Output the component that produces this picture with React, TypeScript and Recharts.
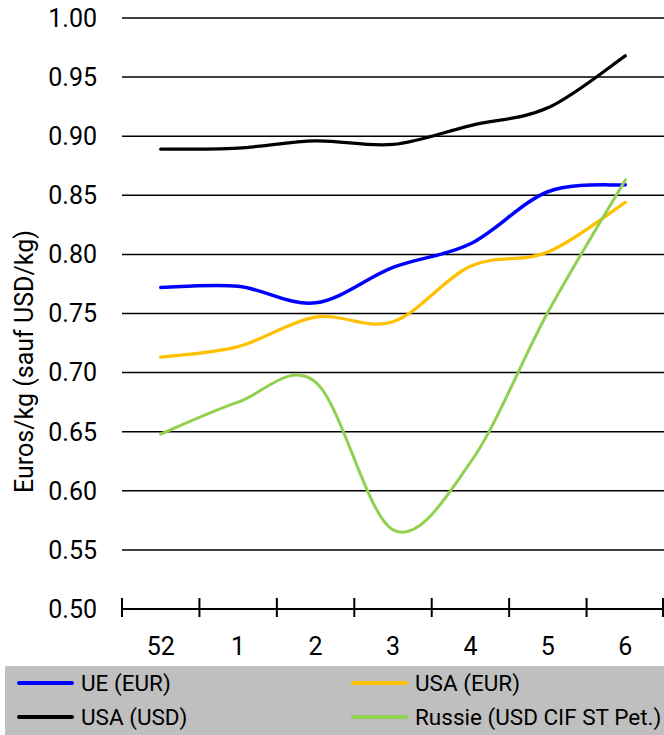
import React from "react";
import { CartesianGrid, Line, LineChart, XAxis, YAxis } from "recharts";

const WEEKS = ["52", "1", "2", "3", "4", "5", "6"];
const UE_EUR = [0.772, 0.773, 0.759, 0.789, 0.809, 0.853, 0.859];
const USA_EUR = [0.713, 0.722, 0.747, 0.743, 0.79, 0.802, 0.844];
const USA_USD = [0.889, 0.89, 0.896, 0.893, 0.909, 0.924, 0.968];
const RUSSIE_USD = [0.648, 0.675, 0.692, 0.567, 0.624, 0.751, 0.863];
const Y_TICKS = [0.5, 0.55, 0.6, 0.65, 0.7, 0.75, 0.8, 0.85, 0.9, 0.95, 1.0];

type SeriesConfig = {
  key: string;
  label: string;
  color: string;
  width: number;
  values: number[];
};

const SERIES: SeriesConfig[] = [
  { key: "ue", label: "UE (EUR)", color: "#0000ff", width: 3.5, values: UE_EUR },
  { key: "usaEur", label: "USA (EUR)", color: "#ffc000", width: 3.25, values: USA_EUR },
  { key: "usaUsd", label: "USA (USD)", color: "#000000", width: 3.25, values: USA_USD },
  { key: "russie", label: "Russie (USD CIF ST Pet.)", color: "#92d050", width: 3, values: RUSSIE_USD },
];

const chartData = WEEKS.map((week, i) => {
  const row: Record<string, number | string> = { week };
  SERIES.forEach((s) => {
    row[s.key] = s.values[i];
  });
  return row;
});

const FONT = "Roboto, 'Noto Sans', sans-serif";

// Excel-like smoothed line (uniform Catmull-Rom through the points)
function smoothCurve(context: any) {
  let pts: [number, number][] = [];
  return {
    areaStart() {},
    areaEnd() {},
    lineStart() {
      pts = [];
    },
    lineEnd() {
      const n = pts.length;
      if (!n) return;
      context.moveTo(pts[0][0], pts[0][1]);
      for (let i = 0; i < n - 1; i++) {
        const p0 = pts[Math.max(i - 1, 0)];
        const p1 = pts[i];
        const p2 = pts[i + 1];
        const p3 = pts[Math.min(i + 2, n - 1)];
        context.bezierCurveTo(
          p1[0] + (p2[0] - p0[0]) / 6,
          p1[1] + (p2[1] - p0[1]) / 6,
          p2[0] - (p3[0] - p1[0]) / 6,
          p2[1] - (p3[1] - p1[1]) / 6,
          p2[0],
          p2[1]
        );
      }
    },
    point(x: number, y: number) {
      pts.push([+x, +y]);
    },
  };
}

// label on the week, tick marks crossing the axis between the weeks
const WeekTick = (props: any) => {
  const { x, y, payload, index, width, visibleTicksCount } = props;
  const count = visibleTicksCount || WEEKS.length;
  const half = width / count / 2;
  const isLast = index === count - 1;
  return (
    <g>
      <line x1={x - half} x2={x - half} y1={y - 11} y2={y + 8} stroke="#000" strokeWidth={2} />
      {isLast && (
        <line x1={x + half - 1} x2={x + half - 1} y1={y - 11} y2={y + 8} stroke="#000" strokeWidth={2} />
      )}
      <text
        x={x}
        y={y + 37}
        textAnchor="middle"
        dominantBaseline="central"
        fontSize={25}
        fontFamily={FONT}
        fill="#000"
      >
        {payload.value}
      </text>
    </g>
  );
};

const YLabel = (props: any) => {
  const vb = props.viewBox;
  const cx = vb.x + 24;
  const cy = vb.y + vb.height / 2 + 48;
  return (
    <text
      x={cx}
      y={cy}
      transform={`rotate(-90 ${cx} ${cy})`}
      textAnchor="middle"
      dominantBaseline="central"
      fontSize={25}
      fontFamily={FONT}
      fill="#000"
    >
      Euros/kg  (sauf USD/kg)
    </text>
  );
};

export default function App() {
  return (
    <div style={{ width: 664, height: 735, fontFamily: FONT, background: "#fff" }}>
      <style>{`body{margin:0}`}</style>
      <LineChart
        width={664}
        height={666}
        data={chartData}
        margin={{ top: 18, right: 0, bottom: 0, left: 0 }}
      >
        <CartesianGrid horizontal vertical={false} stroke="#000" strokeWidth={1.5} />
        <XAxis
          dataKey="week"
          scale="band"
          interval={0}
          height={57}
          tickSize={0}
          tickMargin={0}
          tickLine={false}
          tick={<WeekTick />}
          axisLine={{ stroke: "#000", strokeWidth: 2 }}
        />
        <YAxis
          domain={[0.5, 1.0]}
          ticks={Y_TICKS}
          interval={0}
          width={122}
          tickSize={0}
          tickMargin={25}
          tickLine={false}
          axisLine={false}
          tickFormatter={(v: number) => v.toFixed(2)}
          tick={{ fill: "#000", fontSize: 25, fontFamily: FONT }}
          label={YLabel}
        />
        {SERIES.map((s) => (
          <Line
            key={s.key}
            dataKey={s.key}
            name={s.label}
            type={smoothCurve as any}
            stroke={s.color}
            strokeWidth={s.width}
            strokeLinecap="round"
            dot={false}
            activeDot={false}
            isAnimationActive={false}
          />
        ))}
      </LineChart>
      <div
        style={{
          position: "relative",
          marginLeft: 5,
          width: 659,
          height: 69,
          background: "#bfbfbf",
        }}
      >
        {SERIES.map((s, i) => {
          const col = i % 2;
          const row = Math.floor(i / 2);
          return (
            <div
              key={s.key}
              style={{
                position: "absolute",
                left: col === 0 ? 12 : 346,
                top: 17 + row * 34 - 15,
                height: 30,
                display: "flex",
                alignItems: "center",
                whiteSpace: "nowrap",
              }}
            >
              <span
                style={{
                  display: "inline-block",
                  width: 57,
                  height: 4,
                  borderRadius: 2,
                  background: s.color,
                  marginRight: 7,
                }}
              />
              <span style={{ fontSize: 22.5, color: "#000", lineHeight: "30px" }}>{s.label}</span>
            </div>
          );
        })}
      </div>
    </div>
  );
}
